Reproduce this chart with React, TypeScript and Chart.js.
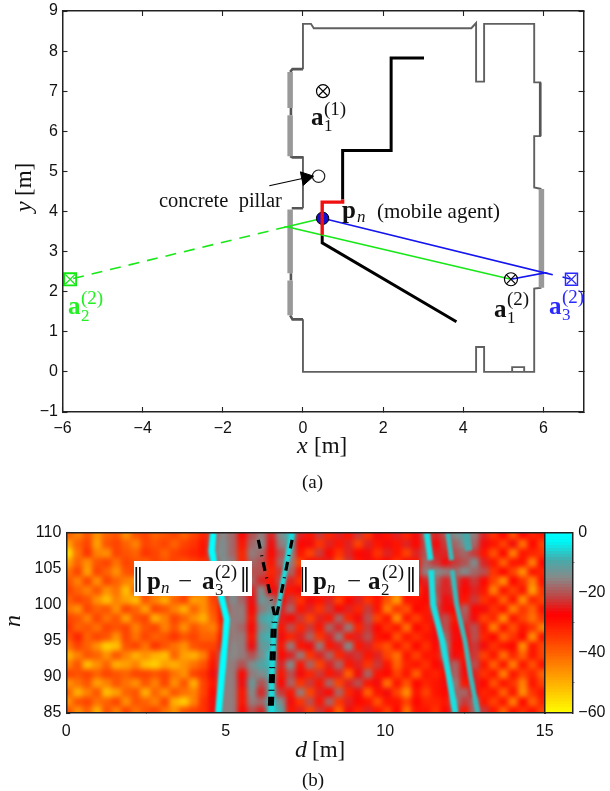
import React, { useEffect, useRef } from "react";
import { Chart, registerables } from "chart.js";

Chart.register(...registerables);

// ---------- panel (a): floor plan, in metres ----------
const wallThin: (number[] | null)[] = [
  [0, 4.08], [0, 5.38], null,
  [0, 7.55], [0, 8.68], [0.2, 8.68], [0.27, 8.57], [4.2, 8.57], [4.32, 8.7], [4.32, 7.24], [4.52, 7.24], [4.52, 8.68],
  [5.77, 8.68], [5.77, 7.22], [5.92, 7.22], [5.92, 5.88], [5.77, 5.88], [5.77, 4.6], [5.95, 4.56], null,
  [5.95, 2.1], [5.77, 2.08], [5.77, 0], [5.52, 0], [5.52, 0.12], [5.22, 0.12], [5.22, 0], [5.52, 0], [4.52, 0],
  [4.52, 0.62], [4.32, 0.62], [4.32, 0], [0, 0], [0, 1.31],
];
const wallLedges: (number[] | null)[] = [
  [0, 7.55], [-0.26, 7.55], [-0.32, 7.48], null,
  [-0.3, 6.58], [-0.3, 6.4], null,
  [-0.32, 5.38], [-0.26, 5.35], [0, 5.35], null,
  [0, 4.08], [-0.28, 4.08], null,
  [-0.3, 2.46], [-0.3, 2.28], null,
  [-0.32, 1.41], [-0.26, 1.31], [0, 1.31], null,
  [5.92, 7.22], [5.92, 5.88],
];
const wallThick: (number[] | null)[] = [
  [-0.32, 7.48], [-0.32, 6.58], null,
  [-0.32, 6.4], [-0.32, 5.38], null,
  [-0.32, 4.05], [-0.32, 2.46], null,
  [-0.32, 2.28], [-0.32, 1.41], null,
  [5.95, 4.56], [5.95, 2.1],
];
const trackBlackUpper = [[3.02, 7.83], [2.2, 7.83], [2.2, 5.52], [0.99, 5.52], [0.99, 4.3]];
const trackRed = [[0.99, 4.3], [0.99, 4.235], [0.48, 4.235], [0.48, 3.42]];
const trackBlackLower = [[0.48, 3.42], [0.48, 3.22], [3.83, 1.25]];
const greenSolid = [[0.49, 3.83], [-0.4, 3.62], [5.19, 2.31]];
const greenDashed = [[-0.4, 3.62], [-5.81, 2.31]];
const blueSolid = [[0.49, 3.83], [6.04, 2.47], [5.19, 2.31]];
const blueDashed = [[6.04, 2.47], [6.7, 2.31]];
const anchorsCircled = [[0.5, 7.0], [5.19, 2.31]];
const pillar = [[0.39, 4.88]];
const agent = [[0.49, 3.83]];
const anchorGreen = [[-5.81, 2.31]];
const anchorBlue = [[6.7, 2.31]];
const arrowShaft = [[-0.84, 4.64], [0.1, 4.85]];
const arrowHead = [[0.07, 4.84]];

// ---------- panel (b): delay-profile map, dB ----------
const heatD = [0.15, 0.45, 0.75, 1.05, 1.35, 1.65, 1.95, 2.25, 2.55, 2.85, 3.15, 3.45, 3.75, 4.05, 4.35, 4.65, 4.95, 5.25, 5.55, 5.85, 6.15, 6.45, 6.75, 7.05, 7.35, 7.65, 7.95, 8.25, 8.55, 8.85, 9.15, 9.45, 9.75, 10.05, 10.35, 10.65, 10.95, 11.25, 11.55, 11.85, 12.15, 12.45, 12.75, 13.05, 13.35, 13.65, 13.95, 14.25, 14.55, 14.85];
const heatEdges = [110, 108.75, 107.5, 106.25, 105, 103.75, 102.5, 101.25, 100, 98.75, 97.5, 96.25, 95, 93.75, 92.5, 91.25, 90, 88.75, 87.5, 86.25, 85];
const heatRows = [
  [-40,-44,-38,-46,-40,-38,-46,-38,-36,-40,-38,-36,-40,-36,-32,-20,-15,-18,-28,-20,-16,-24,-14,-8,-24,-30,-22,-32,-24,-30,-22,-34,-26,-30,-24,-32,-26,-18,-24,-20,-14,-12,-16,-24,-34,-28,-38,-28,-32,-30],
  [-48,-40,-36,-48,-38,-36,-40,-44,-36,-38,-36,-40,-36,-34,-30,-18,-14,-18,-30,-18,-14,-26,-16,-10,-28,-26,-34,-24,-30,-24,-36,-24,-30,-26,-30,-24,-28,-20,-26,-22,-18,-14,-18,-26,-30,-36,-26,-42,-28,-36],
  [-56,-42,-34,-44,-46,-36,-38,-40,-34,-36,-40,-36,-34,-32,-30,-16,-14,-18,-32,-16,-18,-28,-20,-14,-30,-36,-22,-28,-34,-24,-28,-26,-34,-24,-30,-36,-24,-20,-24,-24,-20,-18,-22,-30,-38,-28,-44,-30,-32,-34],
  [-48,-40,-46,-38,-36,-42,-36,-38,-40,-36,-38,-36,-38,-36,-34,-22,-14,-16,-32,-18,-20,-30,-18,-16,-36,-26,-30,-24,-38,-22,-30,-26,-30,-28,-34,-26,-30,-18,-22,-26,-22,-20,-14,-24,-30,-40,-30,-30,-44,-28],
  [-42,-36,-48,-36,-40,-46,-38,-36,-42,-38,-36,-40,-36,-38,-36,-26,-16,-14,-28,-20,-20,-32,-22,-18,-30,-24,-36,-22,-28,-34,-24,-30,-26,-36,-30,-28,-24,-16,-14,-16,-18,-14,-18,-20,-34,-28,-36,-46,-30,-32],
  [-38,-44,-36,-46,-36,-40,-44,-46,-38,-36,-44,-36,-34,-40,-38,-30,-16,-14,-24,-18,-24,-30,-20,-24,-34,-26,-28,-38,-24,-30,-36,-24,-32,-30,-44,-30,-28,-24,-18,-24,-20,-26,-22,-28,-36,-46,-28,-34,-44,-30],
  [-36,-40,-44,-38,-46,-42,-52,-40,-36,-42,-38,-46,-36,-38,-44,-34,-20,-14,-20,-24,-14,-26,-24,-30,-26,-34,-22,-30,-26,-36,-24,-30,-28,-34,-42,-28,-34,-26,-20,-24,-22,-28,-24,-30,-44,-30,-36,-30,-48,-34],
  [-40,-36,-38,-46,-52,-44,-48,-52,-38,-44,-50,-40,-36,-48,-46,-36,-22,-14,-18,-26,-12,-16,-28,-22,-34,-26,-30,-24,-36,-28,-24,-34,-30,-38,-48,-30,-30,-28,-18,-26,-24,-30,-22,-34,-30,-40,-30,-46,-32,-36],
  [-42,-46,-36,-40,-38,-46,-36,-40,-48,-36,-38,-44,-50,-40,-46,-38,-30,-16,-16,-28,-16,-12,-24,-18,-30,-24,-34,-22,-28,-24,-32,-22,-30,-44,-34,-38,-28,-30,-20,-26,-28,-18,-28,-26,-34,-30,-44,-34,-40,-30],
  [-36,-38,-44,-36,-42,-38,-48,-38,-36,-50,-44,-36,-40,-46,-50,-40,-30,-16,-16,-30,-10,-8,-24,-28,-22,-36,-24,-30,-18,-32,-26,-20,-36,-30,-46,-30,-36,-30,-24,-20,-30,-20,-26,-36,-32,-46,-30,-36,-42,-34],
  [-34,-40,-38,-42,-36,-38,-36,-44,-38,-36,-44,-38,-46,-38,-42,-44,-32,-16,-18,-28,-14,-10,-30,-20,-32,-22,-30,-18,-24,-16,-32,-22,-28,-34,-30,-42,-28,-32,-26,-20,-28,-24,-20,-30,-44,-30,-38,-30,-34,-44],
  [-38,-32,-40,-36,-38,-46,-36,-42,-36,-40,-38,-34,-38,-36,-40,-40,-30,-16,-16,-30,-10,-8,-26,-32,-24,-18,-34,-24,-16,-30,-24,-20,-30,-28,-38,-30,-34,-30,-26,-18,-26,-28,-20,-32,-28,-40,-34,-28,-46,-30],
  [-42,-36,-40,-46,-54,-52,-38,-36,-42,-34,-38,-42,-46,-38,-36,-36,-24,-15,-16,-26,-12,-10,-30,-16,-30,-26,-16,-30,-24,-14,-30,-24,-34,-38,-30,-36,-28,-34,-28,-16,-28,-28,-22,-26,-34,-30,-28,-46,-30,-36],
  [-50,-44,-38,-40,-46,-38,-44,-50,-46,-50,-52,-40,-48,-50,-44,-32,-18,-15,-16,-20,-14,-6,-28,-24,-16,-34,-24,-18,-32,-24,-22,-30,-24,-36,-42,-30,-36,-30,-30,-18,-26,-30,-22,-36,-30,-42,-32,-40,-30,-36],
  [-44,-38,-52,-46,-40,-50,-48,-44,-52,-54,-48,-50,-46,-42,-38,-30,-16,-16,-20,-14,-10,-8,-24,-14,-30,-18,-36,-24,-18,-30,-24,-34,-22,-30,-40,-32,-30,-34,-28,-24,-18,-28,-20,-30,-40,-30,-44,-30,-38,-30],
  [-36,-38,-36,-40,-36,-38,-40,-36,-36,-38,-36,-42,-46,-36,-34,-26,-16,-16,-28,-16,-14,-10,-30,-20,-26,-32,-22,-30,-24,-40,-26,-18,-30,-28,-36,-30,-40,-30,-32,-28,-18,-26,-24,-34,-30,-44,-30,-36,-32,-40],
  [-46,-42,-38,-48,-44,-38,-42,-46,-38,-44,-36,-46,-38,-50,-36,-30,-16,-16,-26,-12,-20,-12,-28,-18,-34,-22,-30,-18,-36,-24,-20,-30,-26,-42,-30,-38,-28,-32,-30,-26,-16,-30,-24,-28,-38,-30,-34,-44,-30,-36],
  [-40,-50,-44,-38,-52,-48,-40,-38,-50,-40,-46,-38,-42,-44,-36,-28,-16,-16,-30,-14,-24,-10,-22,-30,-16,-36,-24,-28,-18,-32,-26,-40,-30,-26,-36,-46,-30,-36,-30,-28,-18,-18,-26,-32,-30,-40,-30,-46,-34,-30],
  [-46,-38,-36,-42,-40,-36,-46,-38,-40,-44,-36,-50,-54,-44,-34,-26,-16,-16,-30,-16,-18,-8,-14,-26,-34,-20,-30,-18,-34,-24,-28,-30,-38,-30,-30,-36,-28,-32,-32,-30,-16,-22,-18,-30,-36,-30,-44,-28,-40,-32],
  [-38,-46,-40,-50,-38,-44,-36,-42,-38,-36,-42,-46,-38,-36,-34,-26,-16,-16,-28,-20,-24,-6,-10,-30,-24,-36,-22,-30,-40,-26,-32,-24,-30,-36,-28,-42,-30,-30,-34,-28,-20,-30,-18,-22,-30,-40,-30,-34,-30,-36],
];

// Ridges of the map, read as d [m] against n. Null breaks a ridge where it fades.
const ridgeA = [[4.61, 110], [4.56, 107.5], [4.71, 104], [5.03, 98], [4.98, 95], [4.87, 90], [4.77, 85]];
const ridgeStem = [[6.42, 85], [6.44, 90], [6.52, 97], [6.6, 98.6], [7.08, 110]];
const ridgeC = [[11.3, 110], [11.42, 106.2], null, [11.44, 104.8], [11.5, 100], [11.79, 95], [12.0, 90], [12.2, 85]];
const ridgeD = [[11.96, 110], [12.08, 106.2], null, [12.1, 104.8], [12.24, 100], [12.5, 95], [12.68, 90], [12.9, 85]];
const ridgeE = [[12.52, 110], [12.62, 107.5]];
const dashLeft = [[6.37, 86], [6.46, 97], [6.53, 98.6], [6.02, 109]];
const dashRight = [[6.46, 86], [6.55, 97], [6.6, 98.6], [7.08, 109]];
const colorbarLevels = Array.from({ length: 60 }, (_, i) => -59.5 + i);

const colormapStops: [number, number[]][] = [
  [-60, [255, 255, 0]], [-30, [255, 20, 0]], [-27, [255, 0, 0]], [-21, [190, 70, 70]],
  [-15, [136, 136, 136]], [-9, [70, 170, 170]], [-3, [0, 245, 245]], [0, [0, 255, 255]],
];
function dbColor(v: number): string {
  for (let i = 1; i < colormapStops.length; i++) {
    const [b, cb] = colormapStops[i];
    const [a, ca] = colormapStops[i - 1];
    if (v <= b) {
      const t = Math.max(0, (v - a) / (b - a));
      return `rgb(${ca.map((c, k) => Math.round(c + (cb[k] - c) * t)).join(",")})`;
    }
  }
  return "rgb(0,255,255)";
}

const SERIF = '"Liberation Serif"';
const FRAME = "#222";
const GREEN = "#22f022";
const BLUE = "#2a2aff";

type Run = { t: string; x: number; y: number; f: string; c?: string; rot?: boolean };

const bold = (s: number) => `bold ${s}px ${SERIF}`;
const rom = (s: number) => `${s}px ${SERIF}`;
const ita = (s: number) => `italic ${s}px ${SERIF}`;

const anchorLabel = (x: number, base: number, sub: string, sup: string, c: string, subDy = 6, supDy = -11): Run[] => [
  { t: "a", x, y: base, f: bold(25), c },
  { t: sub, x: x + 13, y: base + subDy, f: rom(17), c },
  { t: sup, x: x + 13, y: base + supDy, f: rom(19), c },
];

const topRuns: Run[] = [
  { t: "concrete  pillar", x: 159, y: 207, f: rom(20.5) },
  { t: "p", x: 342, y: 218, f: bold(25) },
  { t: "n", x: 357, y: 222, f: ita(17) },
  { t: "(mobile agent)", x: 377, y: 218, f: rom(21) },
  ...anchorLabel(311, 125, "1", "(1)", "#111", 6, -10),
  ...anchorLabel(494, 317, "1", "(2)", "#111", 6, -12),
  ...anchorLabel(68, 314, "2", "(2)", GREEN, 7, -10),
  ...anchorLabel(549, 314, "3", "(2)", BLUE, 6, -11),
  { t: "x", x: 297, y: 453, f: ita(24) },
  { t: "[m]", x: 314, y: 453, f: rom(23) },
  { t: "y", x: 31, y: 212, f: ita(24), rot: true },
  { t: "[m]", x: 31, y: 196, f: rom(23), rot: true },
  { t: "(a)", x: 302, y: 488, f: rom(19) },
];

const bottomRuns: Run[] = [
  { t: "‖", x: 133, y: 592, f: rom(36) },
  { t: "p", x: 147, y: 589, f: bold(25) },
  { t: "n", x: 161, y: 593, f: ita(17) },
  { t: "−", x: 178, y: 589, f: rom(25) },
  { t: "a", x: 202, y: 589, f: bold(25) },
  { t: "3", x: 215, y: 595, f: rom(17) },
  { t: "(2)", x: 215, y: 578, f: rom(19) },
  { t: "‖", x: 240, y: 592, f: rom(36) },
  { t: "‖", x: 299, y: 592, f: rom(36) },
  { t: "p", x: 313, y: 589, f: bold(25) },
  { t: "n", x: 327, y: 593, f: ita(17) },
  { t: "−", x: 347, y: 589, f: rom(25) },
  { t: "a", x: 368, y: 589, f: bold(25) },
  { t: "2", x: 381, y: 595, f: rom(17) },
  { t: "(2)", x: 382, y: 578, f: rom(19) },
  { t: "‖", x: 406, y: 592, f: rom(36) },
  { t: "n", x: 20, y: 627, f: ita(24), rot: true },
  { t: "d", x: 295, y: 757, f: ita(24) },
  { t: "[m]", x: 312, y: 757, f: rom(23) },
  { t: "(b)", x: 302, y: 786, f: rom(19) },
];

const noteBoxes = [
  [134, 561, 118, 35],
  [301, 560, 118, 36],
];

function textPlugin(runs: Run[], pageTop: number, boxes: number[][] = []) {
  return {
    id: "textRuns",
    afterDraw(chart: any) {
      const ctx = chart.ctx;
      ctx.save();
      ctx.textBaseline = "alphabetic";
      ctx.textAlign = "left";
      ctx.fillStyle = "#fff";
      boxes.forEach(([x, y, w, h]) => ctx.fillRect(x, y - pageTop, w, h));
      runs.forEach((r) => {
        ctx.save();
        ctx.font = r.f;
        ctx.fillStyle = r.c ?? "#111";
        ctx.translate(r.x, r.y - pageTop);
        if (r.rot) ctx.rotate(-Math.PI / 2);
        ctx.fillText(r.t, 0, 0);
        ctx.restore();
      });
      ctx.restore();
    },
  };
}

const pts = (a: (number[] | null)[]) => a.map((p) => (p ? { x: p[0], y: p[1] } : { x: NaN, y: NaN }));
const line = (d: (number[] | null)[], color: string, width: number, dash: number[] = []) => ({
  type: "line" as const,
  data: pts(d),
  borderColor: color,
  borderWidth: width,
  borderDash: dash,
  pointRadius: 0,
  fill: false,
  tension: 0,
  spanGaps: false,
  borderCapStyle: "butt" as const,
  borderJoinStyle: "miter" as const,
});
const marker = (d: number[][], style: string, r: number, stroke: string, bg = "rgba(0,0,0,0)", bw = 1.2, rotation = 0) => ({
  type: "scatter" as const,
  data: pts(d),
  pointStyle: style,
  pointRadius: r,
  pointBorderColor: stroke,
  pointBackgroundColor: bg,
  pointBorderWidth: bw,
  pointRotation: rotation,
  showLine: false,
  clip: false,
});

function inwardAxis(min: number, max: number, step: number, position: string, size: number, labels: boolean, pad: number, font: number, tick: number) {
  return {
    type: "linear",
    position,
    min,
    max,
    afterFit(s: any) {
      if (s.isHorizontal()) s.height = size;
      else s.width = size;
      s.paddingTop = s.paddingBottom = s.paddingLeft = s.paddingRight = 0;
    },
    border: { display: true, color: FRAME, width: 1.5, z: 2 },
    grid: { drawOnChartArea: false, drawTicks: true, tickLength: tick, tickColor: FRAME, tickWidth: 1.1 },
    ticks: {
      display: labels,
      stepSize: step,
      includeBounds: false,
      maxRotation: 0,
      autoSkip: false,
      padding: pad,
      color: "#111",
      font: { family: "Liberation Sans", size: font },
      callback: (v: number) => String(v).replace("-", "−"),
    },
  };
}

const baseOptions = {
  animation: false as const,
  responsive: false,
  events: [] as string[],
  plugins: { legend: { display: false }, tooltip: { enabled: false }, title: { display: false } },
};

// Datasets of the map: 0-1 dashes, 2-6 ridges, 7 on cells. Cells are smoothed once, after the last of them is drawn.
const LAST_CELL_DRAWN = 7;
const FIRST_RIDGE = 2;

export default function App() {
  const topRef = useRef<HTMLCanvasElement>(null);
  const mapRef = useRef<HTMLCanvasElement>(null);
  const barRef = useRef<HTMLCanvasElement>(null);

  useEffect(() => {
    const top = new Chart(topRef.current!, {
      type: "scatter",
      data: {
        datasets: [
          marker(arrowHead, "triangle", 8, "#000", "#000", 1, 78),
          line(arrowShaft, "#000", 1.1),
          line(trackRed, "#f01010", 3.4),
          marker(agent, "circle", 6.2, "#000", "#1010d0", 1),
          marker(anchorsCircled, "crossRot", 6.5, "#000"),
          marker(anchorsCircled, "circle", 6.5, "#000"),
          marker(pillar, "circle", 6.2, "#222"),
          marker(anchorGreen, "crossRot", 7, "#10e810"),
          marker(anchorGreen, "rect", 8.5, "#10e810", "rgba(0,0,0,0)", 1.8),
          marker(anchorBlue, "crossRot", 7, BLUE),
          marker(anchorBlue, "rect", 8.5, BLUE, "rgba(0,0,0,0)", 1.4),
          line(greenSolid, "#18e818", 1.6),
          line(greenDashed, "#18e818", 1.6, [11, 8]),
          line(blueSolid, "#1414f0", 1.6),
          line(blueDashed, "#1414f0", 1.6, [8, 10]),
          line(trackBlackUpper, "#000", 3),
          line(trackBlackLower, "#000", 3),
          line(wallThick, "#999", 5.5),
          line(wallLedges, "#555", 2.6),
          line(wallThin, "#606060", 1.9),
        ] as any,
      },
      options: {
        ...baseOptions,
        layout: { padding: { left: 0, right: 26.5, top: 11, bottom: 48 } },
        scales: {
          x: inwardAxis(-6, 7, 2, "bottom", 40, true, 12, 16, -5),
          y: inwardAxis(-1, 9, 1, "left", 62.5, true, 9.5, 16, -5),
          x2: inwardAxis(-6, 7, 2, "top", 0, false, 0, 16, -5),
          y2: inwardAxis(-1, 9, 1, "right", 0, false, 0, 16, -5),
        },
      } as any,
      plugins: [textPlugin(topRuns, 0)],
    });

    const heatSets = heatRows.map((row, j) => ({
      type: "bar" as const,
      grouped: false,
      data: heatD.map((d) => ({ x: d, y: [heatEdges[j + 1], heatEdges[j]] })),
      backgroundColor: row.map(dbColor),
      barPercentage: 1,
      categoryPercentage: 1,
      borderWidth: 0,
    }));

    const map = new Chart(mapRef.current!, {
      type: "bar",
      data: {
        datasets: [
          line(dashLeft, "#000", 3.2, [9, 6, 1, 6.7]),
          line(dashRight, "#000", 3.2, [9, 6, 1, 6.7]),
          line(ridgeA, "#00ffff", 6.5),
          line(ridgeStem, "#18dcdc", 5),
          line(ridgeC, "#18e0e0", 6),
          line(ridgeD, "#38baba", 5),
          line(ridgeE, "#48a8a8", 7),
          ...heatSets,
        ] as any,
      },
      options: {
        ...baseOptions,
        layout: { padding: { left: 0, right: 65.3, top: 32.7, bottom: 48 } },
        scales: {
          x: { ...inwardAxis(0, 15, 5, "bottom", 30, true, 13, 16, -4), offset: false },
          y: inwardAxis(85, 110, 5, "left", 66.3, true, 9, 16, -4),
          x2: inwardAxis(0, 15, 5, "top", 0, false, 0, 16, 0),
          y2: inwardAxis(85, 110, 5, "right", 0, false, 0, 16, 0),
        },
      } as any,
      plugins: [
        {
          id: "softCells",
          beforeDatasetDraw(c: any, args: any) {
            if (args.index >= FIRST_RIDGE && args.index < LAST_CELL_DRAWN) c.ctx.filter = "blur(0.9px)";
          },
          afterDatasetDraw(c: any, args: any) {
            c.ctx.filter = "none";
            if (args.index !== LAST_CELL_DRAWN) return;
            const a = c.chartArea;
            const off = document.createElement("canvas");
            off.width = Math.ceil(a.width);
            off.height = Math.ceil(a.height);
            off.getContext("2d")!.drawImage(c.canvas, a.left, a.top, a.width, a.height, 0, 0, a.width, a.height);
            const ctx = c.ctx;
            ctx.save();
            ctx.beginPath();
            ctx.rect(a.left, a.top, a.width, a.height);
            ctx.clip();
            ctx.filter = "blur(2.6px)";
            ctx.drawImage(off, a.left - 3, a.top - 3, a.width + 6, a.height + 6);
            ctx.restore();
          },
        },
        textPlugin(bottomRuns, 500, noteBoxes),
      ],
    });

    const bar = new Chart(barRef.current!, {
      type: "bar",
      data: {
        datasets: [
          {
            data: colorbarLevels.map((v) => ({ y: v, x: [0, 1] })),
            backgroundColor: colorbarLevels.map(dbColor),
            barPercentage: 1,
            categoryPercentage: 1,
            borderWidth: 0,
          },
        ] as any,
      },
      options: {
        ...baseOptions,
        indexAxis: "y",
        layout: { padding: { left: 5, right: 0, top: 32.7, bottom: 48 } },
        scales: {
          x: { type: "linear", min: 0, max: 1, display: false },
          y: {
            ...inwardAxis(-60, 0, 20, "right", 37.7, true, 4, 16, 2),
            offset: false,
          },
          y3: { ...inwardAxis(-60, 0, 20, "left", 0, false, 0, 16, 0) },
          x3: { ...inwardAxis(0, 1, 1, "top", 0, false, 0, 16, 0), grid: { display: false } },
          x4: { ...inwardAxis(0, 1, 1, "bottom", 30, false, 0, 16, 0), grid: { display: false } },
        },
      } as any,
    });

    return () => {
      top.destroy();
      map.destroy();
      bar.destroy();
    };
  }, []);

  return (
    <div style={{ position: "absolute", left: 0, top: 0, width: 610, height: 791, overflow: "hidden", background: "#fff" }}>
      <canvas ref={topRef} width={610} height={500} style={{ position: "absolute", left: 0, top: 0 }} />
      <canvas ref={mapRef} width={610} height={291} style={{ position: "absolute", left: 0, top: 500 }} />
      <canvas ref={barRef} width={70} height={291} style={{ position: "absolute", left: 540, top: 500 }} />
    </div>
  );
}
